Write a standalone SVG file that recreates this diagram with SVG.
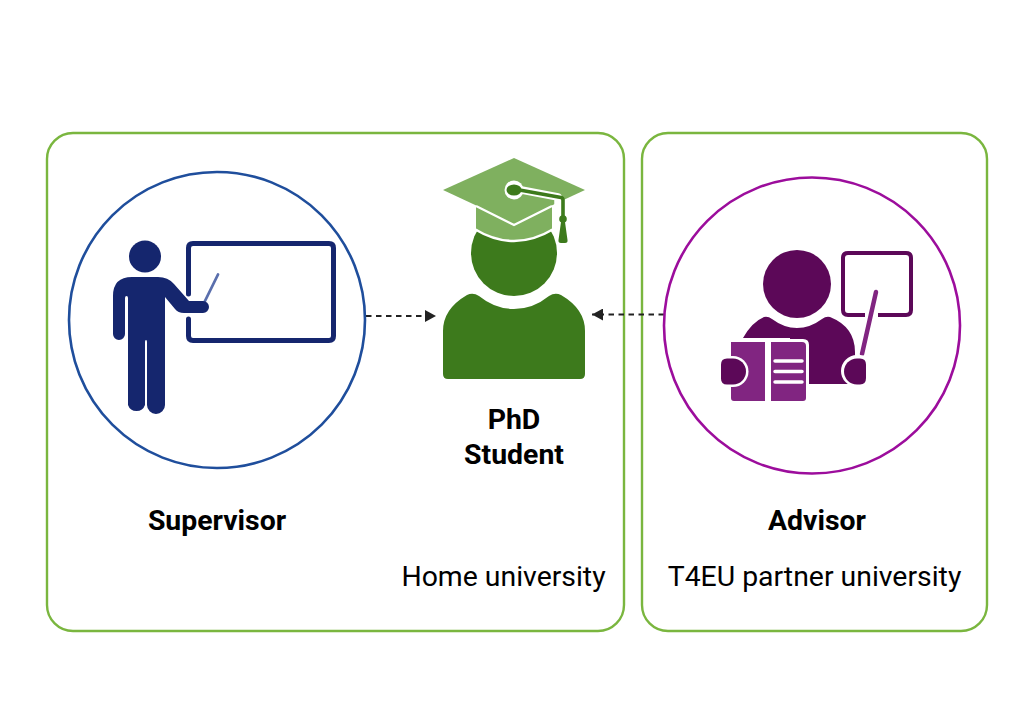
<svg xmlns="http://www.w3.org/2000/svg" width="1024" height="717" viewBox="0 0 1024 717">
<style>
.frame{fill:none;stroke:#7ab63f;stroke-width:2.4}
.t{font-family:Roboto,"Liberation Sans",sans-serif;fill:#000}
.b{font-weight:700;font-size:28.400px;text-anchor:middle}
.r{font-size:28.400px;text-anchor:middle}
.link{fill:none;stroke:#222;stroke-width:2.200;stroke-dasharray:5.500 4.500}
</style>
<defs>
<marker id="ah" viewBox="0 0 11 12" refX="11" refY="6" markerWidth="11" markerHeight="12" markerUnits="userSpaceOnUse" orient="auto"><path d="M0 0L11 6L0 12Z" fill="#222"/></marker>
</defs>
<rect width="1024" height="717" fill="#fff"/>
<g id="home-frame"><rect class="frame" x="47" y="133" width="577" height="498" rx="26"/><text class="t r" x="503.500" y="586">Home university</text></g>
<g id="partner-frame"><rect class="frame" x="642" y="133" width="345" height="498" rx="26"/><text class="t r" x="814.500" y="586">T4EU partner university</text></g>
<g id="connectors">
<path class="link" d="M366 316H436" marker-end="url(#ah)"/>
<path class="link" d="M664 314.500H592" marker-end="url(#ah)"/>
</g>
<g id="supervisor">
<circle cx="217" cy="320" r="148" fill="#fff" stroke="#1f4e9c" stroke-width="2.600"/>
<path d="M188.500 294V248Q188.500 243.500 193 243.500H329Q333.500 243.500 333.500 248V336Q333.500 340.500 329 340.500H193Q188.500 340.500 188.500 336V319" fill="none" stroke="#15266e" stroke-width="5" stroke-linecap="round"/>
<path d="M204 303L218 274.500" fill="none" stroke="#5a6fad" stroke-width="2.800" stroke-linecap="round"/>
<circle cx="145" cy="256.500" r="16" fill="#15266e"/>
<path d="M113 296Q113 277 132 277H158Q168 277 174 284L189 301H203A6 6 0 0 1 203 313H184Q178 313 175 309L165 297V405A9 9 0 0 1 147 405V342Q147 340 146 340T145 342V405A9 9 0 0 1 128 405V298Q128 296 126.500 296T125 298V334A6 6 0 0 1 113 334Z" fill="#15266e"/>
<text class="t b" x="217" y="530">Supervisor</text>
</g>
<g id="phd-student">
<path d="M443 378V331Q443 309 467 295Q473 292 479 296Q495 309 514 309Q533 309 549 296Q555 292 561 295Q585 309 585 331V374Q585 379 580 379H448Q443 379 443 374Z" fill="#3d7a1c"/>
<circle cx="514" cy="253" r="43" fill="#3d7a1c"/>
<path d="M476 205V229Q514 252 552 229V205Z" fill="#7fb05f"/>
<path d="M474.500 229Q514 253 553.500 229" fill="none" stroke="#fff" stroke-width="2.500"/>
<path d="M514 158L585 190L514 223L443 190Z" fill="#7fb05f"/>
<path d="M476 206L514 225L552 206" fill="none" stroke="#fff" stroke-width="2.200"/>
<path d="M511 188L558 197V208" fill="none" stroke="#fff" stroke-width="7.500" stroke-linejoin="round"/>
<circle cx="514" cy="190" r="9.500" fill="#fff"/>
<ellipse cx="514" cy="190" rx="7.500" ry="5.500" fill="#3d7a1c"/>
<path d="M514 189L561 197.500Q563 198 563 200V240" fill="none" stroke="#3d7a1c" stroke-width="3.600"/>
<circle cx="563" cy="219" r="3.800" fill="#3d7a1c"/>
<path d="M561 222H565L567.500 240Q568 243 565 243H561Q558 243 558.500 240Z" fill="#3d7a1c"/>
<text class="t b" x="514" y="429">PhD</text>
<text class="t b" x="514" y="464">Student</text>
</g>
<g id="advisor">
<circle cx="812" cy="325.500" r="148" fill="#fff" stroke="#9c0d9c" stroke-width="2.600"/>
<path d="M865 315H848Q843 315 843 310V258Q843 253 848 253H906Q911 253 911 258V310Q911 315 906 315H878" fill="none" stroke="#5c0858" stroke-width="4"/>
<path d="M862 354L876 292" fill="none" stroke="#812581" stroke-width="4.500" stroke-linecap="round"/>
<circle cx="797" cy="284" r="34" fill="#5c0858"/>
<path d="M743 338Q752 322 764 317Q768 316 772 319Q784 328 797 328Q810 328 822 319Q826 316 830 317Q855 327 855 352V384H790V338Z" fill="#5c0858"/>
<path d="M728 339H803Q809 339 809 345V404H728Z" fill="#fff"/>
<path d="M731 342H765V401H734Q731 401 731 398ZM771 342H802Q806 342 806 346V398Q806 401 803 401H771Z" fill="#812581"/>
<path d="M775 361H802M775 371.500H802M775 382H802" stroke="#fff" stroke-width="3.500" stroke-linecap="round"/>
<path d="M726 356H733A15 15 0 0 1 733 387H726Q720 387 720 381V362Q720 356 726 356Z" fill="#fff"/>
<path d="M727 358.500H733A13 13 0 0 1 733 384.500H727Q721 384.500 721 378.500V364.500Q721 358.500 727 358.500Z" fill="#5c0858"/>
<path d="M857 355H860Q868 355 868 363V379Q868 387 860 387H857A16 16 0 0 1 857 355Z" fill="#fff"/>
<path d="M857 358.500H860Q866 358.500 866 364.500V378Q866 384.500 860 384.500H857A13 13 0 0 1 857 358.500Z" fill="#5c0858"/>
<text class="t b" x="817" y="530">Advisor</text>
</g>
</svg>
